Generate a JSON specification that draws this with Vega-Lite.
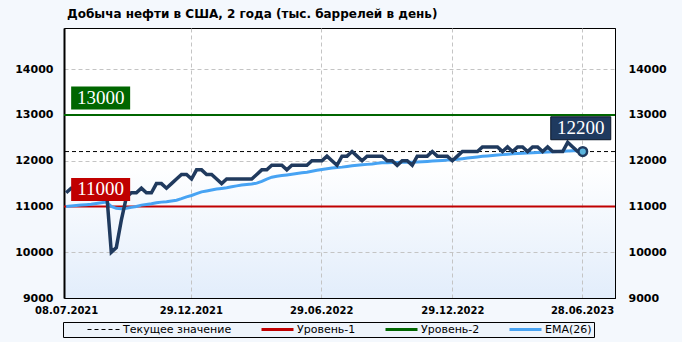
{
  "$schema": "https://vega.github.io/schema/vega-lite/v6.json",
  "width": 551,
  "height": 270,
  "autosize": {"type": "none"},
  "padding": {"left": 64, "top": 28, "right": 67, "bottom": 44},
  "background": "#f4f8fd",
  "title": {
    "text": "Добыча нефти в США, 2 года (тыс. баррелей в день)",
    "anchor": "start",
    "frame": "group",
    "font": "DejaVu Sans",
    "fontSize": 12,
    "fontWeight": "bold",
    "color": "#000000",
    "offset": 7,
    "dx": 3
  },
  "config": {
    "view": {
      "stroke": "#000000",
      "strokeWidth": 1,
      "fill": {
        "gradient": "linear",
        "x1": 0, "y1": 0, "x2": 0, "y2": 1,
        "stops": [
          {"offset": 0, "color": "#ffffff"},
          {"offset": 0.5, "color": "#ffffff"},
          {"offset": 1, "color": "#e2edfb"}
        ]
      }
    },
    "font": "DejaVu Sans"
  },
  "datasets": {
    "prod": [
      {"date": "2021-07-08", "value": 11300, "ema": 11000},
      {"date": "2021-07-15", "value": 11400, "ema": 11010},
      {"date": "2021-07-22", "value": 11400, "ema": 11020},
      {"date": "2021-07-29", "value": 11300, "ema": 11030},
      {"date": "2021-08-05", "value": 11300, "ema": 11040},
      {"date": "2021-08-12", "value": 11400, "ema": 11050},
      {"date": "2021-08-19", "value": 11500, "ema": 11065},
      {"date": "2021-08-26", "value": 11500, "ema": 11080},
      {"date": "2021-09-02", "value": 11400, "ema": 11095},
      {"date": "2021-09-09", "value": 10000, "ema": 11000},
      {"date": "2021-09-16", "value": 10100, "ema": 10960},
      {"date": "2021-09-23", "value": 10700, "ema": 10950},
      {"date": "2021-09-30", "value": 11200, "ema": 10960},
      {"date": "2021-10-07", "value": 11300, "ema": 10980},
      {"date": "2021-10-14", "value": 11300, "ema": 11000},
      {"date": "2021-10-21", "value": 11400, "ema": 11030},
      {"date": "2021-10-28", "value": 11300, "ema": 11045},
      {"date": "2021-11-04", "value": 11300, "ema": 11060},
      {"date": "2021-11-11", "value": 11500, "ema": 11080},
      {"date": "2021-11-18", "value": 11500, "ema": 11095},
      {"date": "2021-11-25", "value": 11400, "ema": 11105},
      {"date": "2021-12-02", "value": 11500, "ema": 11120},
      {"date": "2021-12-09", "value": 11600, "ema": 11135},
      {"date": "2021-12-16", "value": 11700, "ema": 11170},
      {"date": "2021-12-23", "value": 11700, "ema": 11210},
      {"date": "2021-12-30", "value": 11600, "ema": 11240},
      {"date": "2022-01-06", "value": 11800, "ema": 11280},
      {"date": "2022-01-13", "value": 11800, "ema": 11320},
      {"date": "2022-01-20", "value": 11700, "ema": 11340},
      {"date": "2022-01-27", "value": 11700, "ema": 11360},
      {"date": "2022-02-03", "value": 11600, "ema": 11380},
      {"date": "2022-02-10", "value": 11500, "ema": 11395},
      {"date": "2022-02-17", "value": 11600, "ema": 11410},
      {"date": "2022-02-24", "value": 11600, "ema": 11430},
      {"date": "2022-03-03", "value": 11600, "ema": 11450},
      {"date": "2022-03-10", "value": 11600, "ema": 11470},
      {"date": "2022-03-17", "value": 11600, "ema": 11480},
      {"date": "2022-03-24", "value": 11600, "ema": 11490},
      {"date": "2022-03-31", "value": 11700, "ema": 11510},
      {"date": "2022-04-07", "value": 11800, "ema": 11550},
      {"date": "2022-04-14", "value": 11800, "ema": 11600},
      {"date": "2022-04-21", "value": 11900, "ema": 11640},
      {"date": "2022-04-28", "value": 11900, "ema": 11660},
      {"date": "2022-05-05", "value": 11900, "ema": 11675},
      {"date": "2022-05-12", "value": 11800, "ema": 11690},
      {"date": "2022-05-19", "value": 11900, "ema": 11705},
      {"date": "2022-05-26", "value": 11900, "ema": 11720},
      {"date": "2022-06-02", "value": 11900, "ema": 11735},
      {"date": "2022-06-09", "value": 11900, "ema": 11750},
      {"date": "2022-06-16", "value": 12000, "ema": 11770},
      {"date": "2022-06-23", "value": 12000, "ema": 11790},
      {"date": "2022-06-30", "value": 12000, "ema": 11810},
      {"date": "2022-07-07", "value": 12100, "ema": 11825},
      {"date": "2022-07-14", "value": 12000, "ema": 11840},
      {"date": "2022-07-21", "value": 11900, "ema": 11850},
      {"date": "2022-07-28", "value": 12100, "ema": 11860},
      {"date": "2022-08-04", "value": 12100, "ema": 11875},
      {"date": "2022-08-11", "value": 12200, "ema": 11890},
      {"date": "2022-08-18", "value": 12100, "ema": 11900},
      {"date": "2022-08-25", "value": 12000, "ema": 11910},
      {"date": "2022-09-01", "value": 12100, "ema": 11920},
      {"date": "2022-09-08", "value": 12100, "ema": 11930},
      {"date": "2022-09-15", "value": 12100, "ema": 11945},
      {"date": "2022-09-22", "value": 12100, "ema": 11955},
      {"date": "2022-09-29", "value": 12000, "ema": 11958},
      {"date": "2022-10-06", "value": 12000, "ema": 11960},
      {"date": "2022-10-13", "value": 11900, "ema": 11962},
      {"date": "2022-10-20", "value": 12000, "ema": 11964},
      {"date": "2022-10-27", "value": 12000, "ema": 11966},
      {"date": "2022-11-03", "value": 11900, "ema": 11968},
      {"date": "2022-11-10", "value": 12100, "ema": 11970},
      {"date": "2022-11-17", "value": 12100, "ema": 11978},
      {"date": "2022-11-24", "value": 12100, "ema": 11985},
      {"date": "2022-12-01", "value": 12200, "ema": 11992},
      {"date": "2022-12-08", "value": 12100, "ema": 12000},
      {"date": "2022-12-15", "value": 12100, "ema": 12007},
      {"date": "2022-12-22", "value": 12100, "ema": 12014},
      {"date": "2022-12-29", "value": 12000, "ema": 12020},
      {"date": "2023-01-05", "value": 12100, "ema": 12032},
      {"date": "2023-01-12", "value": 12200, "ema": 12045},
      {"date": "2023-01-19", "value": 12200, "ema": 12058},
      {"date": "2023-01-26", "value": 12200, "ema": 12070},
      {"date": "2023-02-02", "value": 12200, "ema": 12083},
      {"date": "2023-02-09", "value": 12300, "ema": 12095},
      {"date": "2023-02-16", "value": 12300, "ema": 12105},
      {"date": "2023-02-23", "value": 12300, "ema": 12115},
      {"date": "2023-03-02", "value": 12300, "ema": 12125},
      {"date": "2023-03-09", "value": 12200, "ema": 12133},
      {"date": "2023-03-16", "value": 12300, "ema": 12141},
      {"date": "2023-03-23", "value": 12200, "ema": 12150},
      {"date": "2023-03-30", "value": 12300, "ema": 12156},
      {"date": "2023-04-06", "value": 12300, "ema": 12162},
      {"date": "2023-04-13", "value": 12200, "ema": 12168},
      {"date": "2023-04-20", "value": 12300, "ema": 12174},
      {"date": "2023-04-27", "value": 12300, "ema": 12180},
      {"date": "2023-05-04", "value": 12200, "ema": 12185},
      {"date": "2023-05-11", "value": 12300, "ema": 12190},
      {"date": "2023-05-18", "value": 12200, "ema": 12195},
      {"date": "2023-05-25", "value": 12200, "ema": 12200},
      {"date": "2023-06-01", "value": 12200, "ema": 12205},
      {"date": "2023-06-08", "value": 12400, "ema": 12210},
      {"date": "2023-06-15", "value": 12300, "ema": 12215},
      {"date": "2023-06-22", "value": 12200, "ema": 12220},
      {"date": "2023-06-29", "value": 12200, "ema": 12225}
    ],
    "levels": [
      {"name": "Уровень-1", "value": 11000},
      {"name": "Уровень-2", "value": 13000}
    ]
  },
  "data": {"name": "prod"},
  "resolve": {"axis": {"y": "independent"}},
  "layer": [
    {
      "data": {"name": "levels"},
      "mark": {"type": "rule", "strokeWidth": 2},
      "encoding": {
        "y": {
          "field": "value", "type": "quantitative",
          "scale": {"domain": [9000, 14900], "nice": false, "zero": false},
          "axis": {
            "orient": "left", "title": null, "format": "d",
            "values": [9000, 10000, 11000, 12000, 13000, 14000],
            "grid": true, "gridColor": "#c4c4c4", "gridDash": [4, 3], "gridWidth": 1,
            "ticks": false, "labelPadding": 11,
            "domainColor": "#000000", "domainWidth": 2,
            "labelFont": "DejaVu Sans", "labelFontWeight": "bold", "labelFontSize": 11, "labelColor": "#000000",
            "labelOverlap": false
          }
        },
        "color": {
          "field": "name", "type": "nominal",
          "scale": {
            "domain": ["Текущее значение", "Уровень-1", "Уровень-2", "EMA(26)"],
            "range": ["#000000", "#c00000", "#006600", "#47a3f3"]
          },
          "legend": {
            "orient": "none", "legendX": -1, "legendY": 294,
            "direction": "horizontal",
            "title": " ", "titleOrient": "left", "titlePadding": 21, "titleFontSize": 11,
            "symbolType": "stroke", "symbolSize": 1024, "symbolStrokeWidth": 3,
            "clipHeight": 11,
            "labelFont": "DejaVu Sans", "labelFontSize": 11, "labelColor": "#000000", "labelOffset": 2,
            "columnPadding": 28, "padding": 2,
            "strokeColor": "#000000", "fillColor": "#eef4fb",
            "labelExpr": "datum.label === 'EMA(26)' ? datum.label + '      ' : datum.label",
            "encode": {
              "symbols": {
                "update": {
                  "strokeDash": {"signal": "(datum.value === 'Текущее значение' ? [4, 3] : [1, 0])"},
                  "strokeWidth": {"signal": "(datum.value === 'Текущее значение' ? 1 : 3)"}
                }
              }
            }
          }
        }
      }
    },
    {
      "transform": [
        {"joinaggregate": [{"op": "max", "field": "date", "as": "maxdate"}]},
        {"filter": "time(datum.date) === time(datum.maxdate)"}
      ],
      "mark": {"type": "rule", "color": "#000000", "strokeWidth": 1, "strokeDash": [4, 3]},
      "encoding": {
        "y": {"field": "value", "type": "quantitative", "scale": {"domain": [9000, 14900], "nice": false, "zero": false}, "axis": null}
      }
    },
    {
      "mark": {"type": "line", "strokeWidth": 3},
      "encoding": {
        "x": {
          "field": "date", "type": "temporal",
          "scale": {"type": "utc", "domain": [{"year": 2021, "month": 7, "date": 5, "utc": true}, {"year": 2023, "month": 8, "date": 13, "utc": true}]}
        },
        "y": {"field": "ema", "type": "quantitative", "scale": {"domain": [9000, 14900], "nice": false, "zero": false}, "axis": null},
        "color": {"datum": "EMA(26)", "type": "nominal", "legend": null}
      }
    },
    {
      "mark": {"type": "line", "color": "#203a5e", "strokeWidth": 3.5},
      "encoding": {
        "x": {
          "field": "date", "type": "temporal",
          "scale": {"type": "utc", "domain": [{"year": 2021, "month": 7, "date": 5, "utc": true}, {"year": 2023, "month": 8, "date": 13, "utc": true}]},
          "axis": {
            "title": null,
            "values": [
              {"year": 2021, "month": 7, "date": 8, "utc": true},
              {"year": 2021, "month": 12, "date": 29, "utc": true},
              {"year": 2022, "month": 6, "date": 29, "utc": true},
              {"year": 2022, "month": 12, "date": 29, "utc": true},
              {"year": 2023, "month": 6, "date": 28, "utc": true}
            ],
            "format": "%d.%m.%Y",
            "grid": true, "gridColor": "#c4c4c4", "gridDash": [4, 3], "gridWidth": 1,
            "gridOpacity": {"condition": {"test": "datum.index === 0", "value": 0}, "value": 1},
            "ticks": false, "labelPadding": 7, "labelFlush": false, "labelOverlap": false,
            "domainColor": "#000000", "domainWidth": 1,
            "labelFont": "DejaVu Sans", "labelFontWeight": "bold", "labelFontSize": 10, "labelColor": "#000000"
          }
        },
        "y": {
          "field": "value", "type": "quantitative",
          "scale": {"domain": [9000, 14900], "nice": false, "zero": false},
          "axis": {
            "orient": "right", "title": null, "format": "d",
            "values": [9000, 10000, 11000, 12000, 13000, 14000],
            "grid": false, "ticks": false, "labelPadding": 13,
            "domainColor": "#000000", "domainWidth": 1,
            "labelFont": "DejaVu Sans", "labelFontWeight": "bold", "labelFontSize": 11, "labelColor": "#000000",
            "labelOverlap": false
          }
        }
      }
    },
    {
      "data": {"name": "levels"},
      "layer": [
        {
          "mark": {"type": "point", "shape": "M-1,-0.39L1,-0.39L1,0.39L-1,0.39Z", "filled": true, "opacity": 1, "size": 3481, "strokeWidth": 0, "xOffset": 34.5, "yOffset": -17},
          "encoding": {
            "x": {"datum": {"year": 2021, "month": 7, "date": 8, "utc": true}, "type": "temporal",
              "scale": {"type": "utc", "domain": [{"year": 2021, "month": 7, "date": 5, "utc": true}, {"year": 2023, "month": 8, "date": 13, "utc": true}]}},
            "y": {"field": "value", "type": "quantitative", "scale": {"domain": [9000, 14900], "nice": false, "zero": false}, "axis": null},
            "fill": {"field": "name", "type": "nominal", "legend": null,
              "scale": {"domain": ["Уровень-1", "Уровень-2"], "range": ["#c00000", "#006600"]}}
          }
        },
        {
          "mark": {"type": "text", "font": "Liberation Serif", "fontSize": 19, "color": "#ffffff", "align": "center", "baseline": "middle", "xOffset": 34.5, "yOffset": -17},
          "encoding": {
            "x": {"datum": {"year": 2021, "month": 7, "date": 8, "utc": true}, "type": "temporal",
              "scale": {"type": "utc", "domain": [{"year": 2021, "month": 7, "date": 5, "utc": true}, {"year": 2023, "month": 8, "date": 13, "utc": true}]}},
            "y": {"field": "value", "type": "quantitative", "scale": {"domain": [9000, 14900], "nice": false, "zero": false}, "axis": null},
            "text": {"field": "value", "type": "quantitative", "format": "d"}
          }
        }
      ]
    },
    {
      "transform": [
        {"joinaggregate": [{"op": "max", "field": "date", "as": "maxdate"}]},
        {"filter": "time(datum.date) === time(datum.maxdate)"}
      ],
      "layer": [
        {
          "mark": {"type": "point", "shape": "circle", "filled": true, "opacity": 1, "size": 75, "fill": "#5bb4dc", "stroke": "#203a5e", "strokeWidth": 2.5},
          "encoding": {
            "x": {"field": "date", "type": "temporal",
              "scale": {"type": "utc", "domain": [{"year": 2021, "month": 7, "date": 5, "utc": true}, {"year": 2023, "month": 8, "date": 13, "utc": true}]}},
            "y": {"field": "value", "type": "quantitative", "scale": {"domain": [9000, 14900], "nice": false, "zero": false}, "axis": null}
          }
        },
        {
          "mark": {"type": "point", "shape": "M-1,-0.383L1,-0.383L1,0.383L-1,0.383Z", "filled": true, "opacity": 1, "size": 3600, "fill": "#1f3a5f", "stroke": "#0a1628", "strokeWidth": 1, "xOffset": -2, "yOffset": -23.3},
          "encoding": {
            "x": {"field": "date", "type": "temporal",
              "scale": {"type": "utc", "domain": [{"year": 2021, "month": 7, "date": 5, "utc": true}, {"year": 2023, "month": 8, "date": 13, "utc": true}]}},
            "y": {"field": "value", "type": "quantitative", "scale": {"domain": [9000, 14900], "nice": false, "zero": false}, "axis": null}
          }
        },
        {
          "mark": {"type": "text", "font": "Liberation Serif", "fontSize": 19, "color": "#ffffff", "align": "center", "baseline": "middle", "xOffset": -2, "yOffset": -23.3},
          "encoding": {
            "x": {"field": "date", "type": "temporal",
              "scale": {"type": "utc", "domain": [{"year": 2021, "month": 7, "date": 5, "utc": true}, {"year": 2023, "month": 8, "date": 13, "utc": true}]}},
            "y": {"field": "value", "type": "quantitative", "scale": {"domain": [9000, 14900], "nice": false, "zero": false}, "axis": null},
            "text": {"field": "value", "type": "quantitative", "format": "d"}
          }
        }
      ]
    }
  ]
}
